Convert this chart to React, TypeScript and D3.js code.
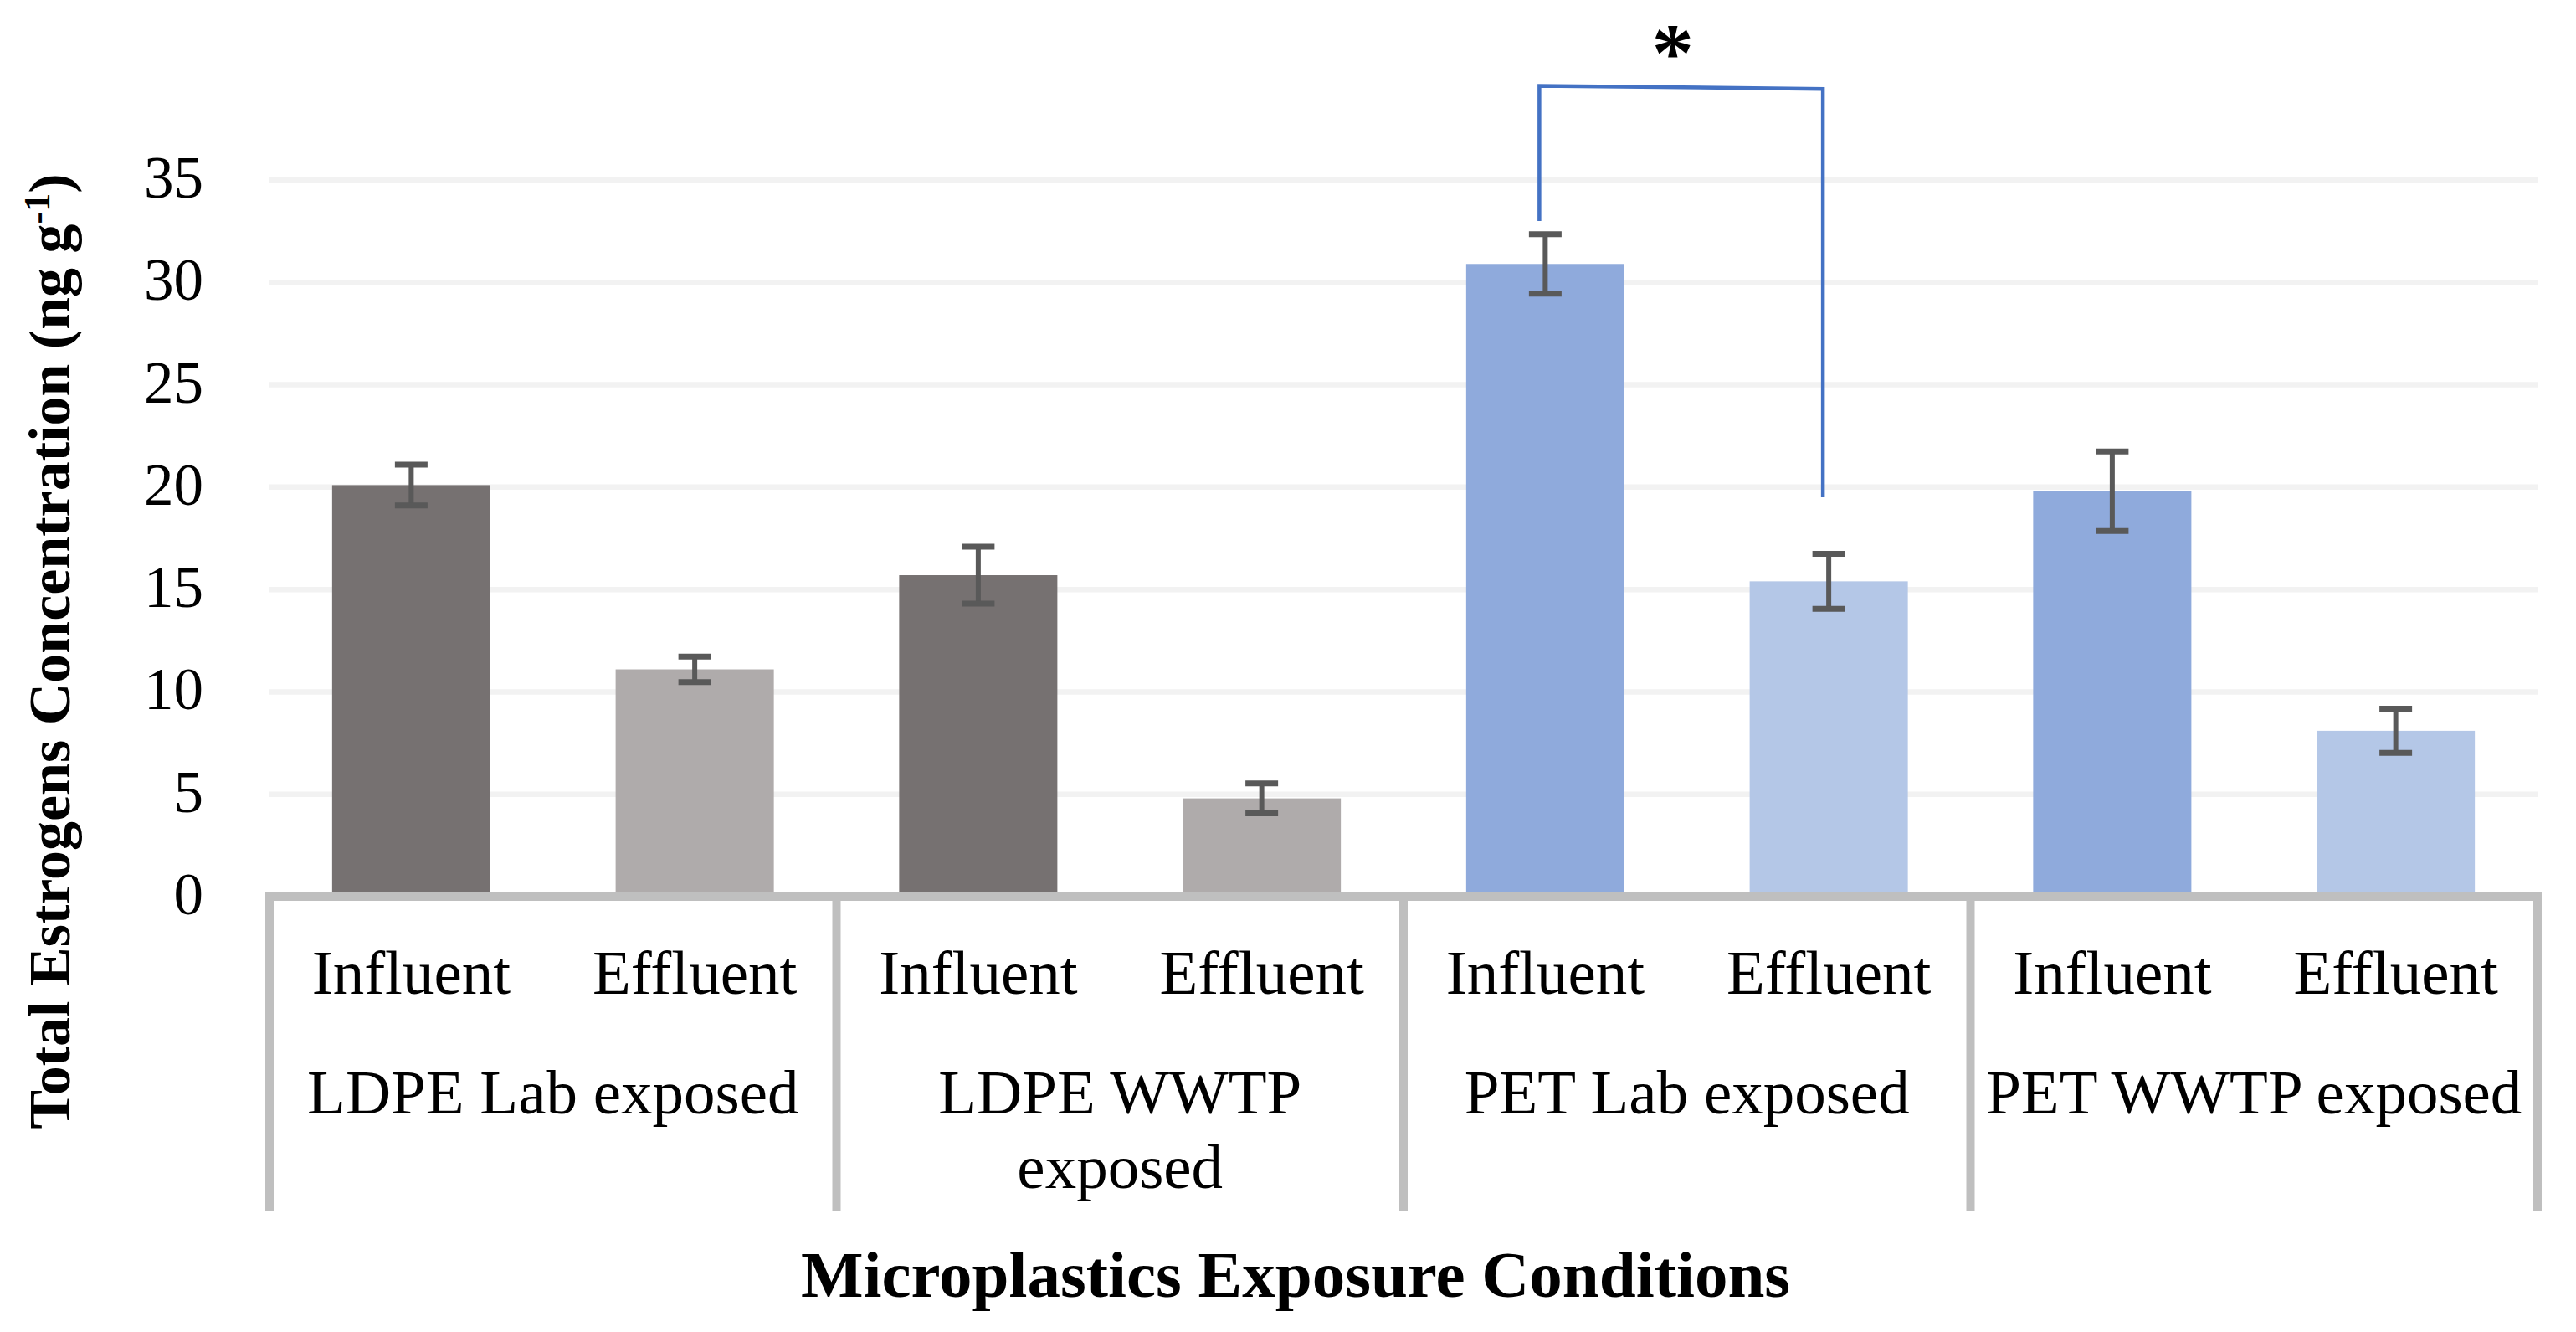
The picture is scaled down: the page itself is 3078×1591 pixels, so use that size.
import { useEffect, useRef } from "react"
import * as d3 from "d3"

// chart values
const groups = ["LDPE Lab exposed", "LDPE WWTP exposed", "PET Lab exposed", "PET WWTP exposed"]
const groupLabelLines = [["LDPE Lab exposed"], ["LDPE WWTP", "exposed"], ["PET Lab exposed"], ["PET WWTP exposed"]]
const conditions = ["Influent", "Effluent"]
const means = [20.1, 11.1, 15.7, 4.8, 30.9, 15.4, 19.8, 8.1]
const errors = [1.0, 0.62, 1.39, 0.73, 1.45, 1.34, 1.94, 1.08]
const barColors = ["#767171", "#AFABAB", "#767171", "#AFABAB", "#8FAADC", "#B4C7E7", "#8FAADC", "#B4C7E7"]
const yTicks = [0, 5, 10, 15, 20, 25, 30, 35]

// significance bracket between PET Lab influent / effluent (in data units)
const bracket = { from: 4, to: 5, topLeft: 39.6, topRight: 39.45, endLeft: 33.0, endRight: 19.5 }

const W = 3078
const H = 1591
const FONT = "'Liberation Serif', 'Times New Roman', serif"

export default function App() {
  const svgRef = useRef<SVGSVGElement>(null)

  useEffect(() => {
    document.body.style.margin = "0"
    if (!svgRef.current) return
    const svg = d3.select(svgRef.current)
    svg.selectAll("*").remove()

    const left = 322
    const right = 3032
    const top = 215
    const bottom = 1071

    const keys = means.map((_, i) => `b${i}`)
    const x = d3.scaleBand().domain(keys).range([left, right]).paddingInner(0.442).paddingOuter(0.221)
    const gx = d3.scaleBand().domain(groups).range([left, right]).padding(0)
    const y = d3.scaleLinear().domain([0, 35]).range([bottom, top])

    const g = svg.append("g")

    // gridlines
    g.selectAll("line.grid")
      .data(yTicks.filter((t) => t > 0))
      .enter()
      .append("line")
      .attr("x1", left)
      .attr("x2", right)
      .attr("y1", (d) => y(d))
      .attr("y2", (d) => y(d))
      .attr("stroke", "#F2F2F2")
      .attr("stroke-width", 6.5)

    // tick labels
    g.selectAll("text.tick")
      .data(yTicks)
      .enter()
      .append("text")
      .attr("x", 243)
      .attr("y", (d) => y(d) + 21)
      .attr("text-anchor", "end")
      .attr("font-family", FONT)
      .attr("font-size", 71)
      .attr("fill", "#000")
      .text((d) => d)

    // bars
    g.selectAll("rect.bar")
      .data(means)
      .enter()
      .append("rect")
      .attr("x", (_, i) => x(keys[i]) as number)
      .attr("width", x.bandwidth())
      .attr("y", (d) => y(d))
      .attr("height", (d) => y(0) - y(d))
      .attr("fill", (_, i) => barColors[i])

    // axis line
    g.append("line")
      .attr("x1", left)
      .attr("x2", right)
      .attr("y1", bottom)
      .attr("y2", bottom)
      .attr("stroke", "#BFBFBF")
      .attr("stroke-width", 10)

    // category separators
    const seps = [...groups.map((d) => gx(d) as number), right]
    g.selectAll("line.sep")
      .data(seps)
      .enter()
      .append("line")
      .attr("x1", (d) => d)
      .attr("x2", (d) => d)
      .attr("y1", bottom - 5)
      .attr("y2", 1447)
      .attr("stroke", "#BFBFBF")
      .attr("stroke-width", 10)

    // error bars
    const capW = 39
    means.forEach((m, i) => {
      const cx = (x(keys[i]) as number) + x.bandwidth() / 2
      const hi = y(m + errors[i])
      const lo = y(m - errors[i])
      const eg = g.append("g").attr("stroke", "#595959")
      eg.append("line").attr("x1", cx).attr("x2", cx).attr("y1", hi).attr("y2", lo).attr("stroke-width", 6)
      eg.append("line").attr("x1", cx - capW / 2).attr("x2", cx + capW / 2).attr("y1", hi).attr("y2", hi).attr("stroke-width", 7)
      eg.append("line").attr("x1", cx - capW / 2).attr("x2", cx + capW / 2).attr("y1", lo).attr("y2", lo).attr("stroke-width", 7)
    })

    // significance bracket
    const bx1 = (x(keys[bracket.from]) as number) + x.bandwidth() / 2 - 7
    const bx2 = (x(keys[bracket.to]) as number) + x.bandwidth() / 2 - 7
    const path = d3.path()
    path.moveTo(bx1, y(bracket.endLeft))
    path.lineTo(bx1, y(bracket.topLeft))
    path.lineTo(bx2, y(bracket.topRight))
    path.lineTo(bx2, y(bracket.endRight))
    g.append("path")
      .attr("d", path.toString())
      .attr("fill", "none")
      .attr("stroke", "#4472C4")
      .attr("stroke-width", 4.5)

    g.append("text")
      .attr("x", (bx1 + bx2) / 2 - 10)
      .attr("y", 96)
      .attr("text-anchor", "middle")
      .attr("font-family", FONT)
      .attr("font-weight", "bold")
      .attr("font-size", 100)
      .attr("fill", "#000")
      .text("*")

    // condition labels
    means.forEach((_, i) => {
      g.append("text")
        .attr("x", (x(keys[i]) as number) + x.bandwidth() / 2)
        .attr("y", 1187)
        .attr("text-anchor", "middle")
        .attr("font-family", FONT)
        .attr("font-size", 75)
        .attr("fill", "#000")
        .text(conditions[i % 2])
    })

    // group labels
    groups.forEach((grp, gi) => {
      const cx = (gx(grp) as number) + gx.bandwidth() / 2
      groupLabelLines[gi].forEach((line, li) => {
        g.append("text")
          .attr("x", cx)
          .attr("y", 1330 + li * 89)
          .attr("text-anchor", "middle")
          .attr("font-family", FONT)
          .attr("font-size", 75)
          .attr("fill", "#000")
          .text(line)
      })
    })

    // x axis title
    g.append("text")
      .attr("x", 1548)
      .attr("y", 1549)
      .attr("text-anchor", "middle")
      .attr("font-family", FONT)
      .attr("font-weight", "bold")
      .attr("font-size", 79)
      .attr("fill", "#000")
      .text("Microplastics Exposure Conditions")

    // y axis title
    const yt = g.append("text")
      .attr("transform", "translate(83,778) rotate(-90)")
      .attr("text-anchor", "middle")
      .attr("font-family", FONT)
      .attr("font-weight", "bold")
      .attr("font-size", 70)
      .attr("fill", "#000")
    yt.append("tspan").text("Total Estrogens Concentration (ng g")
    yt.append("tspan").attr("baseline-shift", "super").attr("font-size", 44).text("-1")
    yt.append("tspan").text(")")
  }, [])

  return (
    <svg ref={svgRef} width={W} height={H} style={{ display: "block", background: "#fff" }} />
  )
}
